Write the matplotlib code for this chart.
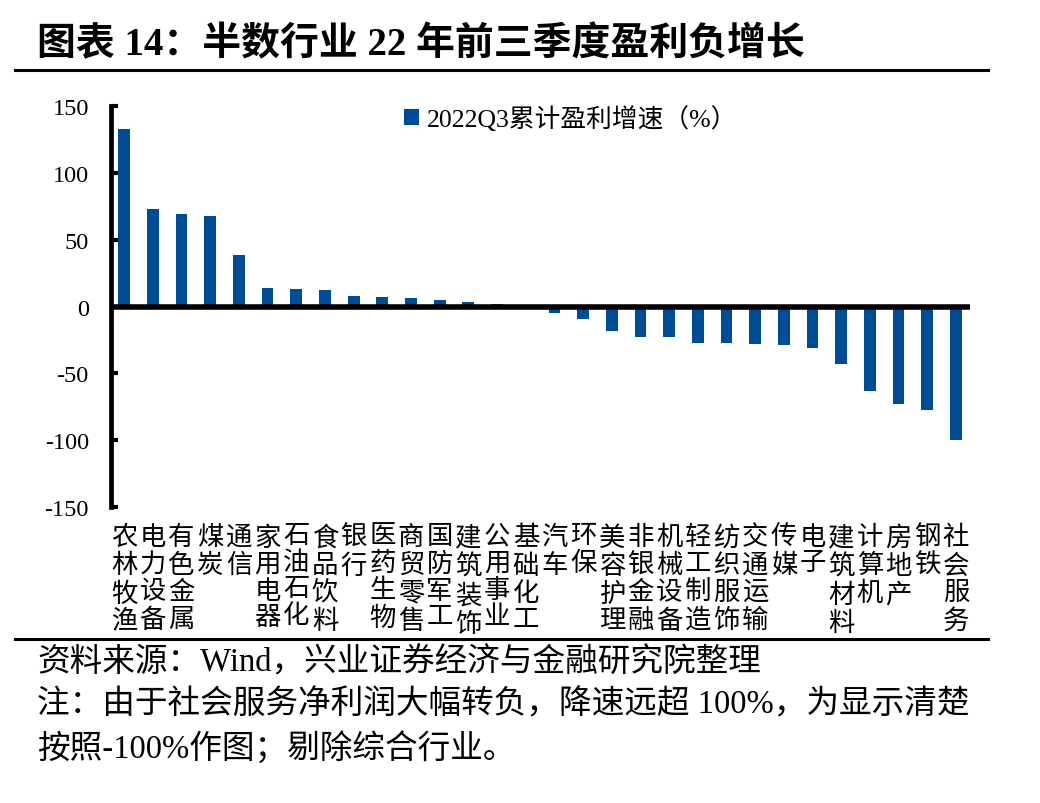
import matplotlib
matplotlib.use('Agg')
import matplotlib.pyplot as plt
from matplotlib.lines import Line2D

plt.rcParams['font.family'] = ['Liberation Serif', 'Noto Sans CJK SC', 'DejaVu Sans']

# 2022Q3 累计盈利增速（%），按行业
industries = ['农林牧渔', '电力设备', '有色金属', '煤炭', '通信', '家用电器', '石油石化',
              '食品饮料', '银行', '医药生物', '商贸零售', '国防军工', '建筑装饰', '公用事业',
              '基础化工', '汽车', '环保', '美容护理', '非银金融', '机械设备', '轻工制造',
              '纺织服饰', '交通运输', '传媒', '电子', '建筑材料', '计算机', '房地产',
              '钢铁', '社会服务']
growth = [133, 73, 69, 68, 38.5, 14, 13.2, 12.5, 7.7, 7.2, 6.5, 4.7, 3.7, 2.2,
          -0.5, -5, -9, -18.7, -22.7, -22.7, -27.2, -27.4, -28.4, -29, -30.7,
          -43, -63.3, -73.3, -77.6, -100]
yticks = [150, 100, 50, 0, -50, -100, -150]

W, H = 1040, 804
fig = plt.figure(figsize=(W / 100, H / 100), dpi=100)
ax = fig.add_axes([111 / W, 1 - 508 / H, (970 - 111) / W, (508 - 107) / H])

x = list(range(len(industries)))
ax.bar(x, growth, width=0.41, color='#004B96', label='2022Q3累计盈利增速（%）', zorder=2)
ax.axhline(0, color='black', lw=4, zorder=3)

ax.set_xlim(-0.46, len(industries) - 0.51)
ax.set_ylim(-150, 150)
ax.set_yticks(yticks)
ax.set_yticklabels([str(v) for v in yticks], fontsize=17.5)
ax.tick_params(axis='y', direction='in', length=5, width=3, pad=16)

# 竖排行业名称
ax.set_xticks(x)
ax.set_xticklabels(['\n'.join(n) for n in industries], fontsize=19, va='top',
                   linespacing=1.2)
ax.tick_params(axis='x', length=0, pad=13)

for s in ['top', 'right', 'bottom']:
    ax.spines[s].set_visible(False)
ax.spines['left'].set_linewidth(3.4)

ax.legend(loc='upper center', bbox_to_anchor=(0.535, 1.06), frameon=False,
          fontsize=18.5, handlelength=0.6, handleheight=0.6, handletextpad=0.3)

# 标题与分隔线
fig.text(37 / W, 1 - 45 / H, '图表 14：半数行业 22 年前三季度盈利负增长',
         fontsize=28, weight='bold', va='center', ha='left')
fig.add_artist(Line2D([15 / W, 988 / W], [1 - 71 / H] * 2, lw=2.2, color='black'))
fig.add_artist(Line2D([15 / W, 988 / W], [1 - 640 / H] * 2, lw=2.2, color='black'))

# 资料来源与注释
fig.text(37 / W, 1 - 663 / H, '资料来源：Wind，兴业证券经济与金融研究院整理',
         fontsize=23.5, va='center', ha='left')
fig.text(37 / W, 1 - 705 / H, '注：由于社会服务净利润大幅转负，降速远超 100%，为显示清楚',
         fontsize=23.5, va='center', ha='left')
fig.text(37 / W, 1 - 748 / H, '按照-100%作图；剔除综合行业。',
         fontsize=23.5, va='center', ha='left')

fig.savefig('out.png', dpi=100)
